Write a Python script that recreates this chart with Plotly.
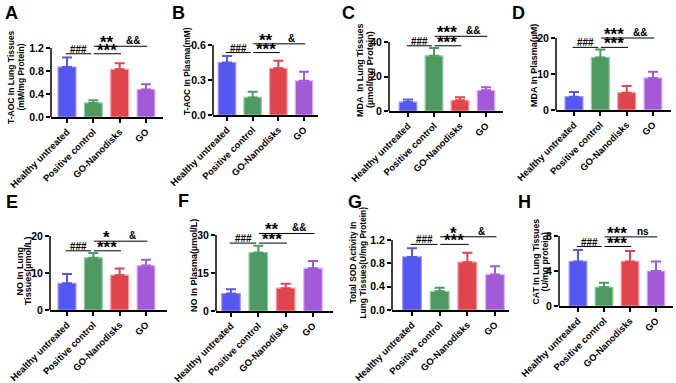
import plotly.graph_objects as go

W, H = 676, 383
FONT = "Arial, Liberation Sans, Helvetica, sans-serif"

# ---------------- data ----------------
groups = ["Healthy untreated", "Positive control", "GO-Nanodisks", "GO"]
bar_colors = ["#5656f0", "#4f9a62", "#e0444c", "#a35ad8"]
edge_colors = ["#9a9aff", "#92cfa2", "#ff9aa0", "#dcb8f8"]

panel_letters = ["A", "B", "C", "D", "E", "F", "G", "H"]
title_lines = [
    ["T-AOC In Lung Tissues", "(mM/mg Protein)"],
    ["T-AOC In Plasma(mM)"],
    ["MDA  In Lung Tissues", "(µmol/mg Protein)"],
    ["MDA In Plasma(µM)"],
    ["NO In Lung", "Tissues(µmol/L)"],
    ["NO In Plasma(µmol/L)"],
    ["Total SOD Activity In", "Lung Tissues(U/mg Protein)"],
    ["CAT In Lung Tissues", "(U/mg protein)"],
]

mean_A = [0.87, 0.245, 0.83, 0.48]
err_A = [0.165, 0.047, 0.105, 0.088]
mean_B = [0.45, 0.151, 0.40, 0.294]
err_B = [0.055, 0.049, 0.066, 0.077]
mean_C = [5.2, 32.0, 6.2, 12.0]
err_C = [1.5, 4.5, 1.8, 1.8]
mean_D = [3.7, 14.6, 4.8, 8.9]
err_D = [1.3, 2.2, 1.9, 1.7]
mean_E = [7.2, 14.1, 9.4, 12.0]
err_E = [2.5, 1.3, 1.8, 1.6]
mean_F = [6.9, 23.1, 9.0, 16.9]
err_F = [1.7, 2.7, 1.8, 2.8]
mean_G = [0.91, 0.32, 0.82, 0.61]
err_G = [0.15, 0.06, 0.16, 0.14]
mean_H = [5.1, 2.15, 5.1, 4.0]
err_H = [1.3, 0.5, 1.2, 1.1]

means = [mean_A, mean_B, mean_C, mean_D, mean_E, mean_F, mean_G, mean_H]
errs = [err_A, err_B, err_C, err_D, err_E, err_F, err_G, err_H]

y_top_tick = [1.2, 0.6, 40, 20, 20, 30, 1.2, 8]
y_dtick = [0.4, 0.3, 20, 10, 10, 15, 0.4, 4]
y_fmt = [".1f", ".1f", "d", "d", "d", "d", ".1f", "d"]

# significance brackets: lower line (### and ***), upper line (vs GO)
sig_low = [1.10, 0.535, 37.8, 17.4, 16.0, 26.8, 1.125, 6.8]
sig_high = [1.23, 0.61, 43.3, 20.0, 18.6, 30.6, 1.255, 7.9]
sig_low_labels = ["###", "***"]
sig_high_labels = [("**", "&&"), ("**", "&"), ("***", "&&"), ("***", "&&"),
                   ("*", "&"), ("**", "&&"), ("*", "&"), ("***", "ns")]

# ---------------- layout geometry (pixels) ----------------
geo = [
    dict(axis=51, bar0=67, bar3=146, end=163, zero=117, ttop=48, rtop=1.3),
    dict(axis=213, bar0=227, bar3=304, end=318, zero=115, ttop=45, rtop=0.65),
    dict(axis=389, bar0=408, bar3=486, end=503, zero=111, ttop=42, rtop=45),
    dict(axis=556, bar0=574, bar3=653, end=671, zero=110, ttop=38, rtop=21),
    dict(axis=50, bar0=67, bar3=146, end=167, zero=310, ttop=236, rtop=20.5),
    dict(axis=216, bar0=231, bar3=313, end=333, zero=311, ttop=235, rtop=32),
    dict(axis=392, bar0=412, bar3=495, end=509, zero=310, ttop=240, rtop=1.32),
    dict(axis=559, bar0=578, bar3=656, end=673, zero=306, ttop=236, rtop=8.4),
]
letter_pos = [(3, 1), (170, 1), (340, 1), (510, 1), (4, 190), (176, 189), (346, 190), (516, 190)]
title_x = [[11, 20.5], [187], [360, 370], [534], [19.5, 28], [194], [352.5, 362.5], [535.5, 544.5]]
title_y = [77, 71, 70, 66, 271, 266, 263, 262]
title_size = [8.5, 8.4, 9, 9, 9, 9, 8.4, 8.7]

fig = go.Figure()
layout = dict(width=W, height=H, margin=dict(l=0, r=0, t=0, b=0, autoexpand=False),
              paper_bgcolor="white", plot_bgcolor="white", showlegend=False,
              barmode="overlay", font=dict(family=FONT, color="black"))
shapes, annotations = [], []

for i in range(8):
    g = geo[i]
    n = "" if i == 0 else str(i + 1)
    xa, ya = "x" + n, "y" + n
    unit = (g["bar3"] - g["bar0"]) / 3.0
    xl = (g["axis"] - g["bar0"]) / unit
    xr = (g["end"] - g["bar0"]) / unit
    ppv = (g["zero"] - g["ttop"]) / y_top_tick[i]
    top_px = g["zero"] - g["rtop"] * ppv
    layout["xaxis" + n] = dict(
        domain=[g["axis"] / W, g["end"] / W], anchor=ya, type="category",
        categoryorder="array", categoryarray=groups, range=[xl, xr],
        automargin=False,
        showline=True, linecolor="black", linewidth=1.5, ticks="outside",
        ticklen=4, tickwidth=1.5, tickcolor="black", tickangle=-45,
        tickfont=dict(size=9.4, family=FONT, weight="bold"),
        showgrid=False, zeroline=False, fixedrange=True)
    layout["yaxis" + n] = dict(
        domain=[(H - g["zero"]) / H, (H - top_px) / H], anchor=xa,
        automargin=False,
        range=[0, g["rtop"]], tickmode="linear", tick0=0, dtick=y_dtick[i],
        tickformat=y_fmt[i], showline=False, ticks="outside", ticklen=4,
        tickwidth=1.5, tickcolor="black",
        tickfont=dict(size=10.5, family=FONT, weight="bold"),
        showgrid=False, zeroline=False, fixedrange=True)
    for k in range(4):
        fig.add_trace(go.Bar(
            x=[groups[k]], y=[means[i][k]], xaxis=xa, yaxis=ya, width=0.68,
            marker=dict(color=bar_colors[k], line=dict(color=edge_colors[k], width=1.2)),
            error_y=dict(type="data", symmetric=False, array=[errs[i][k]],
                         arrayminus=[0], color=bar_colors[k], thickness=2, width=5)))
    # y-axis line up to top tick
    shapes.append(dict(type="line", xref=xa + " domain", yref=ya, x0=0, x1=0,
                       y0=0, y1=y_top_tick[i], line=dict(color="black", width=1.5)))
    # significance lines
    for (a, b, yv) in [(-0.05, 0.92, sig_low[i]), (1.02, 2.05, sig_low[i]), (1.02, 3.05, sig_high[i])]:
        shapes.append(dict(type="line", xref=xa, yref=ya, x0=a, x1=b, y0=yv, y1=yv,
                           line=dict(color="black", width=1)))
    annotations.append(dict(xref=xa, yref=ya, x=0.45, y=sig_low[i], text=sig_low_labels[0],
                            showarrow=False, yanchor="bottom", yshift=-3,
                            font=dict(size=10, family=FONT, weight="bold")))
    annotations.append(dict(xref=xa, yref=ya, x=1.5, y=sig_low[i], text=sig_low_labels[1],
                            showarrow=False, yanchor="bottom", yshift=-8,
                            font=dict(size=17, family=FONT, weight="bold")))
    s1, s2 = sig_high_labels[i]
    annotations.append(dict(xref=xa, yref=ya, x=1.5, y=sig_high[i], text=s1,
                            showarrow=False, yanchor="bottom", yshift=-8,
                            font=dict(size=17, family=FONT, weight="bold")))
    annotations.append(dict(xref=xa, yref=ya, x=2.5, y=sig_high[i], text=s2,
                            showarrow=False, yanchor="bottom", yshift=-2,
                            font=dict(size=10, family=FONT, weight="bold")))
    # panel letter
    lx, ly = letter_pos[i]
    annotations.append(dict(xref="paper", yref="paper", x=lx / W, y=1 - ly / H,
                            xanchor="left", yanchor="top", text=panel_letters[i],
                            showarrow=False, font=dict(size=18, family=FONT, weight="bold")))
    # y titles
    for j, line in enumerate(title_lines[i]):
        annotations.append(dict(xref="paper", yref="paper", x=title_x[i][j] / W,
                                y=1 - title_y[i] / H, xanchor="center", yanchor="middle",
                                text=line, textangle=-90, showarrow=False,
                                font=dict(size=title_size[i], family=FONT, weight="bold")))

layout["shapes"] = shapes
layout["annotations"] = annotations
fig.update_layout(**layout)
fig.write_html("out.html")
